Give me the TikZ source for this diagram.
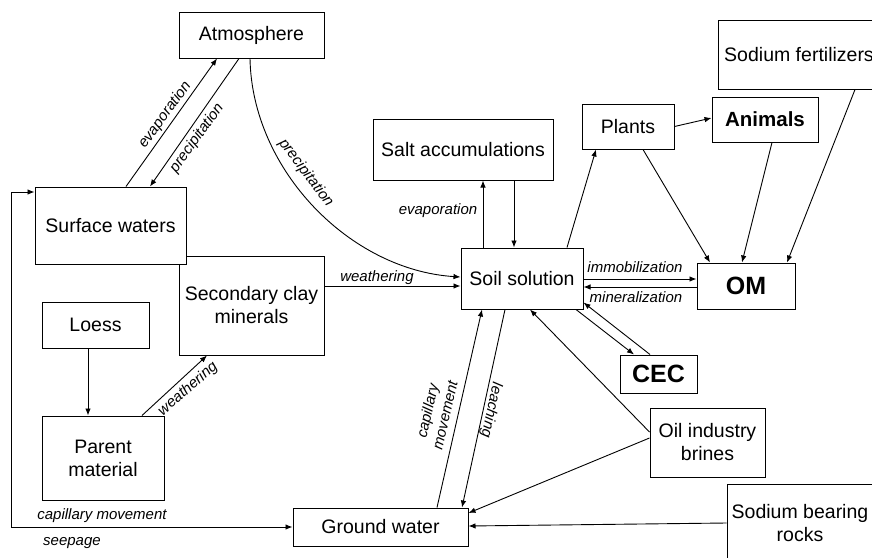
\documentclass[tikz,border=0pt]{standalone}
\usepackage{fontspec}
\setmainfont{Liberation Sans}
\usetikzlibrary{arrows.meta,calc}
\begin{document}
\begin{tikzpicture}[x=1pt,y=-1pt,
 box/.style={draw, fill=white, line width=1pt, inner sep=1pt, align=center, font=\fontsize{19.5}{23}\selectfont},
 bbox/.style={box, font=\fontsize{25}{28}\selectfont\bfseries},
 lab/.style={inner sep=0pt, align=center, font=\fontsize{15}{18}\selectfont\itshape},
 arr/.style={-{Latex[length=7pt,width=5.5pt]}, line width=0.9pt},
 darr/.style={{Latex[length=7pt,width=5.5pt]}-{Latex[length=7pt,width=5.5pt]}, line width=0.9pt}]
\clip (0,0) rectangle (872,557);
\fill[white] (0,0) rectangle (872,557);

% boxes
\node[box, minimum width=145pt, minimum height=46pt] (atm) at (251.5,35) {Atmosphere};
\node[box, minimum width=145pt, minimum height=99pt] (clay) at (251.5,305.5) {Secondary clay\\minerals};
\node[box, minimum width=151pt, minimum height=77pt] (surf) at (110.5,225.5) {Surface waters};
\node[box, minimum width=107pt, minimum height=46pt] (loess) at (95.5,325) {Loess};
\node[box, minimum width=122pt, minimum height=84pt] (parent) at (103,458) {Parent\\material};
\node[box, minimum width=175pt, minimum height=38pt] (ground) at (380.5,527) {Ground water};
\node[box, minimum width=122pt, minimum height=61pt] (soil) at (522,278.5) {Soil solution};
\node[box, minimum width=180pt, minimum height=61pt] (salt) at (463,149.5) {Salt accumulations};
\node[box, minimum width=92pt, minimum height=45pt] (plants) at (628,126.5) {Plants};
\node[box, minimum width=106pt, minimum height=45pt, font=\fontsize{20.5}{23}\selectfont\bfseries] (animals) at (765,119.5) {Animals};
\node[box, minimum width=162pt, minimum height=69pt] (fert) at (799,54.5) {Sodium fertilizers};
\node[bbox, minimum width=98pt, minimum height=46pt] (om) at (746,286) {OM};
\node[bbox, minimum width=77pt, minimum height=38pt] (cec) at (658.5,374) {CEC};
\node[box, minimum width=115pt, minimum height=69pt] (oil) at (707.5,442.5) {Oil industry\\brines};
\node[box, minimum width=146pt, minimum height=78pt] (rocks) at (800,523) {Sodium bearing\\rocks};

% connectors
\draw[arr] ([xshift=15.5pt]surf.north) -- ([xshift=-34.5pt]atm.south);
\draw[arr] ([xshift=-12.5pt]atm.south) -- ([xshift=39.5pt]surf.north);
\draw[arr] ([xshift=-1.5pt]atm.south) .. controls (252,170) and (350,270) .. ([yshift=1.5pt]soil.west);
\draw[arr] ([yshift=19.5pt]clay.east) -- ([yshift=19.5pt]clay.east -| soil.west);
\draw[arr] ([xshift=-7.5pt]loess.south) -- ([xshift=-7.5pt]loess.south |- parent.north);
\draw[arr] ([xshift=39pt]parent.north) -- ([xshift=-44.5pt]clay.south);
\coordinate (lc) at (11,527);
\draw[darr] (ground.west) -- (lc) |- ([yshift=33.5pt]surf.west);
\draw[arr] ([xshift=56.5pt]ground.north) -- ([xshift=-40pt]soil.south);
\draw[arr] ([xshift=-17pt]soil.south) -- ([xshift=81.5pt]ground.north);
\draw[arr] ([xshift=-39pt]soil.north) -- ([xshift=20pt]salt.south);
\draw[arr] ([xshift=51pt]salt.south) -- ([xshift=-8pt]soil.north);
\draw[arr] ([xshift=45pt]soil.north) -- ([xshift=-32pt]plants.south);
\draw[arr] (plants.east) -- ([yshift=1.5pt]animals.west);
\draw[arr] ([xshift=15pt]plants.south) -- ([xshift=-36pt]om.north);
\draw[arr] ([xshift=7pt]animals.south) -- ([xshift=-4pt]om.north);
\draw[arr] ([xshift=56pt]fert.south) -- ([xshift=41pt]om.north);
\draw[arr] ([yshift=-0.5pt]soil.east) -- ([yshift=-0.5pt]soil.east -| om.west);
\draw[arr] ([yshift=-1pt]om.west) -- ([yshift=-1pt]om.west -| soil.east);
\draw[arr] ([xshift=54pt]soil.south) -- ([xshift=-24.5pt]cec.north);
\draw[arr] ([xshift=-8.5pt]cec.north) -- ([yshift=7pt]soil.south east);
\draw[arr] ([yshift=10.5pt]oil.west) -- ([xshift=8pt]soil.south);
\draw[arr] ([yshift=4.5pt]oil.west) -- ([yshift=14pt]ground.east);
\draw[arr] (rocks.west) -- ([yshift=1pt]ground.east);

% labels
\node[lab, rotate=54] (l1) at (165,115) {evaporation};
\node[lab, rotate=54] (l2) at (197,138) {precipitation};
\node[lab, rotate=-53] (l3) at (306,173) {precipitation};
\node[lab] (l4) at (438,211) {evaporation};
\node[lab] (l5) at (377,278) {weathering};
\node[lab, rotate=41] (l6) at (188,389) {weathering};
\node[lab] (l7) at (635,267) {immobilization};
\node[lab] (l8) at (636,297) {mineralization};
\node[lab] (l9) at (102,516) {capillary movement};
\node[lab] (l10) at (72,543) {seepage};
\node[lab, rotate=77] (l11) at (436,413) {capillary\\movement};
\node[lab, rotate=-102] (l12) at (491,410) {leaching};
\end{tikzpicture}
\end{document}
